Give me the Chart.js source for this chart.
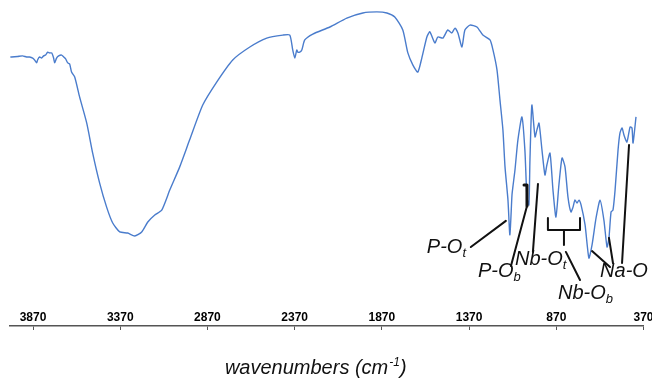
<!DOCTYPE html>
<html><head><meta charset="utf-8">
<script src="https://cdn.jsdelivr.net/npm/chart.js@4"></script>
<style>html,body{margin:0;padding:0;background:#fff;}#wrap{width:652px;height:379px;position:relative;}</style>
</head><body><div id="wrap"><canvas id="c"></canvas></div>
<script>
// FT-IR spectrum (wavenumbers in cm-1, transmittance in arbitrary %)
const wavenumbers = [4000,3993,3958,3930,3907,3890,3872,3861,3849,3844,3832,3821,3809,3798,3786,3775,3763,3752,3746,3735,3723,3706,3694,3683,3671,3660,3649,3631,3603,3562,3528,3488,3448,3413,3373,3327,3287,3247,3212,3172,3132,3086,3029,2972,2897,2817,2725,2627,2530,2438,2398,2381,2369,2358,2352,2341,2329,2312,2266,2168,2071,1979,1899,1841,1796,1750,1721,1692,1664,1641,1612,1595,1566,1549,1520,1492,1469,1451,1434,1411,1394,1365,1325,1291,1250,1233,1210,1193,1176,1164,1147,1136,1124,1119,1107,1090,1067,1050,1038,1027,1021,1010,992,981,969,952,935,924,906,889,872,855,837,820,803,786,774,763,751,740,728,705,683,665,642,619,597,579,568,556,545,533,516,505,493,482,465,447,436,430,413];
const transmittance = [82.6,82.6,82.8,83.0,82.6,82.6,82.2,81.5,80.4,81.5,82.6,82.2,83.0,83.3,84.4,84.1,84.1,82.2,80.4,82.2,83.0,83.3,82.6,81.9,80.4,80.0,77.0,75.2,67.8,58.1,47.0,35.9,27.0,21.1,17.8,17.4,16.3,17.8,21.5,24.1,25.9,33.3,41.9,51.9,64.8,73.3,81.5,86.3,89.6,90.7,90.7,85.2,82.2,85.2,84.4,84.4,85.2,88.9,91.1,93.7,97.0,98.9,99.3,98.9,97.4,92.6,84.1,79.6,77.0,82.2,90.0,91.9,87.8,90.0,89.6,92.6,91.5,93.3,91.5,86.3,92.6,94.4,93.7,90.7,88.9,85.2,77.8,66.7,55.6,41.9,29.6,16.7,31.5,34.4,40.7,51.9,60.4,48.1,30.4,27.8,44.4,64.8,53.0,55.6,58.1,48.1,38.9,42.6,47.0,33.3,23.3,35.2,45.2,41.9,30.7,25.2,27.0,29.6,28.5,29.6,27.8,20.4,8.1,13.0,23.0,29.6,22.2,12.2,15.6,25.2,25.9,33.3,48.1,54.4,56.3,53.7,51.1,56.7,56.3,50.7,60.4];
const tickValues = [3870,3370,2870,2370,1870,1370,870,370];
const axisTitle = 'wavenumbers (cm';
const axisTitleSup = '-1';

// Band assignments: label text, subscript
const bandNames = ['P-O','P-O','Nb-O','Nb-O','Na-O'];
const bandSubs = ['t','b','t','b',''];
// label anchor (wavenumber, transmittance) -> left / baseline
const bandLabelAt = [[1612,10.0],[1319,1.1],[1107,5.6],[860,-7.0],[619,1.1]];
// leader lines in data coordinates
const leaderLines = [
  [[1360,12.2],[1159,21.9]],
  [[1130,5.2],[1038,27.4]],
  [[1004,10.4],[975,35.6]],
  [[815,10.4],[734,0.0]],
  [[665,10.7],[562,4.8]],
  [[568,15.6],[545,6.3]],
  [[453,50.0],[493,6.3]]
];
const braceLines = [
  [[918,23.0],[918,18.5],[734,18.5],[734,23.0]],
  [[826,18.5],[826,13.0]]
];
const smallBracket = [[1055,35.2],[1038,35.2],[1038,27.4]];

const annotate = {
  id: 'annotate',
  afterDraw(chart) {
    const {ctx, scales:{x, y}, chartArea} = chart;
    const P = p => [x.getPixelForValue(p[0]), y.getPixelForValue(p[1])];
    ctx.save();
    ctx.strokeStyle = '#111';
    ctx.lineCap = 'round';
    ctx.lineJoin = 'round';
    const poly = (pts, w) => {
      ctx.lineWidth = w;
      ctx.beginPath();
      pts.forEach((p, i) => { const [px, py] = P(p); i ? ctx.lineTo(px, py) : ctx.moveTo(px, py); });
      ctx.stroke();
    };
    leaderLines.forEach(l => poly(l, 2));
    braceLines.forEach(l => poly(l, 2));
    poly(smallBracket, 3);
    ctx.fillStyle = '#111';
    ctx.textBaseline = 'alphabetic';
    ctx.textAlign = 'left';
    bandNames.forEach((name, i) => {
      const [px, py] = P(bandLabelAt[i]);
      ctx.font = 'italic 20px "Liberation Sans", Arial, sans-serif';
      ctx.fillText(name, px, py);
      const w = ctx.measureText(name).width;
      if (bandSubs[i]) {
        ctx.font = 'italic 13px "Liberation Sans", Arial, sans-serif';
        ctx.fillText(bandSubs[i], px + w, py + 4);
      }
    });
    // axis title with superscript
    ctx.font = 'italic 20px "Liberation Sans", Arial, sans-serif';
    const w1 = ctx.measureText(axisTitle).width;
    ctx.font = 'italic 12px "Liberation Sans", Arial, sans-serif';
    const w2 = ctx.measureText(axisTitleSup).width;
    ctx.font = 'italic 20px "Liberation Sans", Arial, sans-serif';
    const w3 = ctx.measureText(')').width;
    const total = w1 + w2 + w3 + 1;
    const cx = (chartArea.left + chartArea.right) / 2 - 11;
    const by = chart.height - 5;
    let sx = cx - total / 2;
    ctx.fillText(axisTitle, sx, by);
    ctx.font = 'italic 12px "Liberation Sans", Arial, sans-serif';
    ctx.fillText(axisTitleSup, sx + w1 + 1, by - 8);
    ctx.font = 'italic 20px "Liberation Sans", Arial, sans-serif';
    ctx.fillText(')', sx + w1 + w2 + 1, by);
    ctx.restore();
  }
};

const setTicks = s => { s.ticks = tickValues.map(v => ({value: v})); };
const noSidePad = s => { s.paddingLeft = 0; s.paddingRight = 0; };

new Chart(document.getElementById('c'), {
  type: 'line',
  data: {
    labels: wavenumbers,
    datasets: [{
      data: wavenumbers.map((w, i) => ({x: w, y: transmittance[i]})),
      borderColor: '#4a7ccc',
      borderWidth: 1.4,
      pointRadius: 0,
      tension: 0.2,
      fill: false,
      xAxisID: 'x',
      yAxisID: 'y'
    }]
  },
  options: {
    responsive: true,
    maintainAspectRatio: false,
    animation: false,
    events: [],
    layout: {padding: {left: 10, right: 8.5, top: 0, bottom: 49}},
    plugins: {legend: {display: false}, tooltip: {enabled: false}},
    scales: {
      x: {
        type: 'linear', position: 'bottom', reverse: true, min: 370, max: 4002, weight: 0,
        afterBuildTicks: setTicks, afterFit: noSidePad,
        border: {display: false},
        grid: {display: false, drawTicks: false},
        ticks: {padding: 1, color: '#000', callback: v => String(v), font: {family: '"Liberation Sans", Arial, sans-serif', size: 12, weight: 'bold'}, maxRotation: 0, autoSkip: false}
      },
      xLine: {
        type: 'linear', position: 'bottom', reverse: true, min: 370, max: 4002, weight: 1,
        afterBuildTicks: setTicks, afterFit: noSidePad,
        border: {display: true, color: '#555', width: 1.5},
        grid: {drawOnChartArea: false, drawTicks: true, tickLength: 4, color: '#555', lineWidth: 1},
        ticks: {display: false}
      },
      y: {type: 'linear', display: false, min: -10.96, max: 103.7}
    }
  },
  plugins: [annotate]
});
</script>
</body></html>
